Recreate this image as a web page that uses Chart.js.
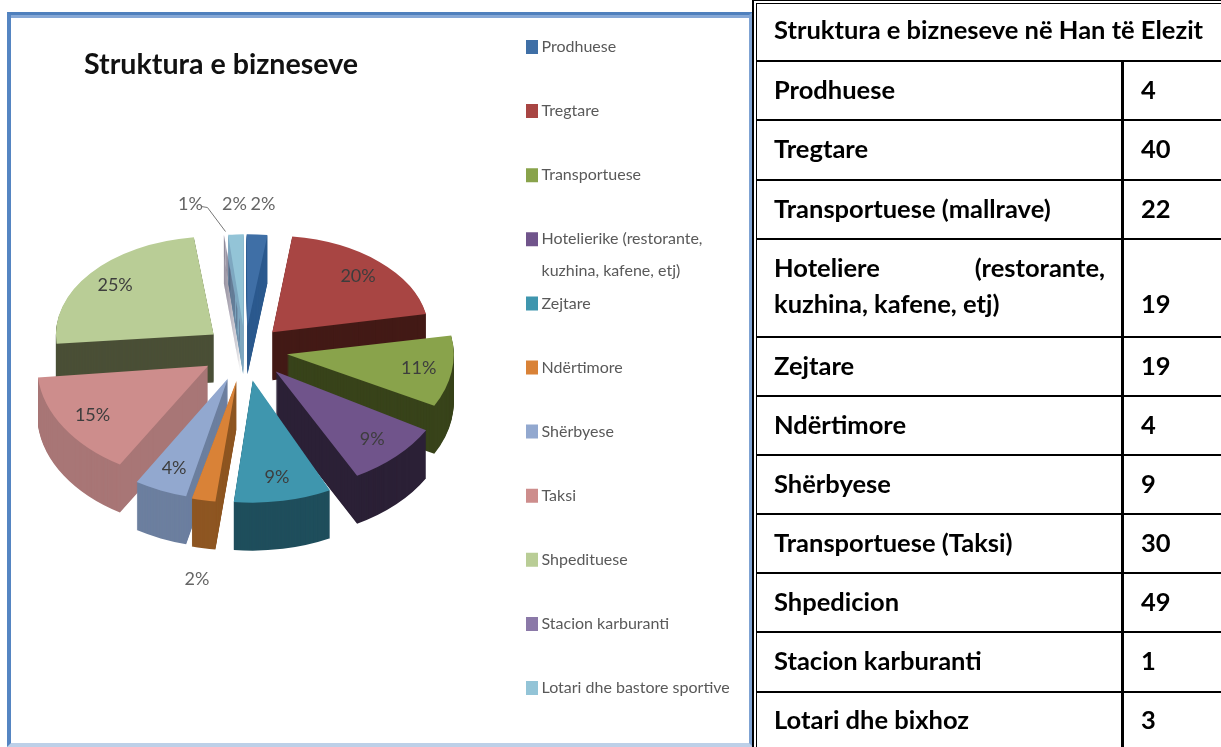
<!DOCTYPE html>
<html lang="sq"><head><meta charset="utf-8">
<script src="https://cdn.jsdelivr.net/npm/chart.js@4"></script>
<style>
html,body{margin:0;padding:0;background:#fff;overflow:hidden;width:1221px;height:747px}
#frame{position:absolute;left:7px;top:12px;width:746px;height:735px;box-sizing:border-box;
 border-left:4px solid #5585c2;border-top:3px solid #4f80bd;border-right:4px solid #7fa3d3;border-bottom:4px solid #bdd0e8}
#frame:before{content:"";position:absolute;left:0;right:0;top:0;height:3px;background:#86a8d6}
canvas{position:absolute;left:0;top:0;filter:blur(.75px)}
.dbl{position:absolute;box-sizing:border-box;border-color:#000;border-style:solid;border-right:0;border-bottom:0}
#d1{left:752px;top:0;width:469px;height:747px;border-width:1px 0 0 2px}
#d2{left:756px;top:3px;width:465px;height:744px;border-width:1px 0 0 1px}
#tbl{position:absolute;left:757px;top:0;width:464px;height:747px;border-collapse:separate;border-spacing:0;
 font:bold 25.5px Lato,"Open Sans",sans-serif;color:#000;table-layout:fixed}
#tbl td{border:0;border-bottom:2px solid #000;padding:0 0 4px 17px;vertical-align:middle;box-sizing:border-box}
#tbl td.v{border-left:3px solid #000;padding-left:17px}
#tbl tr:first-child td{padding-bottom:2px}
#tbl tr:last-child td{border-bottom:0;padding-bottom:2px}
#tbl .tall td{vertical-align:bottom;padding-bottom:15px;line-height:36px}
.just{display:block;text-align:justify;text-align-last:justify;padding-right:16px}
</style></head><body>
<div id="frame"></div>
<canvas id="c" width="752" height="830"></canvas>
<div class="dbl" id="d1"></div><div class="dbl" id="d2"></div>
<table id="tbl"></table>
<script>
const chartTitle = 'Struktura e bizneseve';
const legendLabels = ['Prodhuese','Tregtare','Transportuese','Hotelierike (restorante,','Zejtare','Ndërtimore','Shërbyese','Taksi','Shpedituese','Stacion karburanti','Lotari dhe bastore sportive'];
const legendWrapLine = 'kuzhina, kafene, etj)';
const values = [4,40,22,19,19,4,9,30,49,1,3];
const percentLabels = ['2%','20%','11%','9%','9%','2%','4%','15%','25%','1%','2%'];
const topColors = ['#3F6FA6','#A84543','#89A34B','#70548B','#3F96AE','#D98237','#92A8CF','#CD8D8C','#B9CD96','#8B79A8','#93C4D7'];
const sideColors = ['#2C5A8E','#431A16','#38431A','#2B2036','#1F4E5C','#8E5622','#6C7F9F','#A87676','#4A4F36','#2E2440','#7FA8C0'];
const tableTitle = 'Struktura e bizneseve në Han të Elezit';
const tableLabels = ['Prodhuese','Tregtare','Transportuese (mallrave)','Hoteliere (restorante,|kuzhina, kafene, etj)','Zejtare','Ndërtimore','Shërbyese','Transportuese (Taksi)','Shpedicion','Stacion karburanti','Lotari dhe bixhoz'];
const tableValues = [4,40,22,19,19,4,9,30,49,1,3];
const rowHeights = [62,59,60,59,98,59,59,59,59,59,60,54];

// table
const tbl = document.getElementById('tbl');
let html = '<colgroup><col style="width:364px"><col style="width:100px"></colgroup>';
html += `<tr style="height:${rowHeights[0]}px"><td colspan="2">${tableTitle}</td></tr>`;
tableLabels.forEach((l,i)=>{
  const parts = l.split('|');
  const txt = parts.length>1 ? `<span class="just">${parts[0]}</span>${parts[1]}` : l;
  html += `<tr class="${parts.length>1?'tall':''}" style="height:${rowHeights[i+1]}px"><td>${txt}</td><td class="v">${tableValues[i]}</td></tr>`;
});
tbl.innerHTML = html;

// pie geometry on the page
const PIE = {cx:245, cy:350, k:.65, depth:48, perspX:.07, perspY:.14};
const FONT = 'Lato,"Open Sans",sans-serif';
const LEG = {x:526, firstY:47, size:16, pad:48.1, boxW:3, line:9};

function sliceInfo(el){
  const mid=(el.startAngle+el.endAngle)/2;
  const ux=Math.cos(mid), uy=Math.sin(mid);
  return {mid,ux,uy,sx:1+PIE.perspX*uy,sy:(1+PIE.perspY*uy)*PIE.k};
}
function drawSlice(ctx,el,color,dy,inf){
  const o=el.options, R=el.outerRadius, a0=el.startAngle, a1=el.endAngle, c0=el.circumference;
  // thin slices look wider in the tilted view: open them a little around their middle
  const frac=(a1-a0)/(2*Math.PI), widen=frac<.05?Math.min(2.4,1+.012/frac):1;
  const circ=(a1-a0)*widen;
  el.startAngle=inf.mid-circ/2; el.endAngle=inf.mid+circ/2; el.circumference=circ;
  // the arc element grows narrow slices by a share of their offset: cancel that growth
  el.outerRadius=R-(o.offset/4)*(1-Math.sin(Math.min(Math.PI,circ)));
  el.options=Object.assign({},o,{backgroundColor:color,borderWidth:0});
  ctx.save();
  ctx.translate(PIE.cx,PIE.cy+dy);
  ctx.scale(inf.sx,inf.sy);
  ctx.translate(-el.x,-el.y);
  el.draw(ctx);
  ctx.restore();
  el.options=o; el.outerRadius=R; el.startAngle=a0; el.endAngle=a1; el.circumference=c0;
}
const pie3d = {
  id:'pie3d',
  beforeDraw(chart){
    const l=chart.legend;
    l.left=LEG.x+LEG.line/2-LEG.pad;
    l.top=LEG.firstY-LEG.pad-LEG.size/2;
    const t=chart.titleBlock;
    t.left=84; t.right=500; t.top=48;
  },
  beforeDatasetsDraw(chart){
    const ctx=chart.ctx, arcs=chart.getDatasetMeta(0).data;
    const order=arcs.map((a,i)=>i).sort((a,b)=>sliceInfo(arcs[a]).uy-sliceInfo(arcs[b]).uy);
    for(const i of order){
      const el=arcs[i], inf=sliceInfo(el);
      for(let d=PIE.depth;d>0;d--) drawSlice(ctx,el,sideColors[i],d,inf);
      drawSlice(ctx,el,topColors[i],0,inf);
    }
    // percentage labels
    ctx.save();
    ctx.font='18px '+FONT; ctx.textAlign='center'; ctx.textBaseline='middle';
    arcs.forEach((el,i)=>{
      const inf=sliceInfo(el), off=el.options.offset/4, R=el.outerRadius;
      const outside=values[i]<=4 && i!==6;
      const f=outside?1.2:.8;
      let x=PIE.cx+inf.ux*inf.sx*(off+f*R), y=PIE.cy+inf.uy*inf.sy*(off+f*R);
      if(outside) y+= inf.uy>0 ? PIE.depth+7 : -12;
      if(i===9) x-=30;
      if(i===0) x+=4;
      ctx.fillStyle=outside?'#666':'#3d3d3d';
      ctx.fillText(percentLabels[i],x,y);
      if(i===9){
        ctx.strokeStyle='#777';ctx.lineWidth=1;ctx.beginPath();
        ctx.moveTo(x+11,y+2);ctx.lineTo(x+17,y+3);ctx.lineTo(x+35,y+27);ctx.stroke();
      }
    });
    // wrapped second line of the fourth legend entry
    ctx.textAlign='left';ctx.fillStyle='#595959';ctx.font=LEG.size+'px '+FONT;
    ctx.fillText(legendWrapLine,LEG.x+LEG.line/2+LEG.boxW+LEG.size/2,LEG.firstY+3*(LEG.size+LEG.pad)+32);
    ctx.restore();
    return false;
  }
};
new Chart(document.getElementById('c'),{
  type:'pie',
  data:{labels:legendLabels,datasets:[{data:values,backgroundColor:topColors,borderWidth:0,offset:168,hoverOffset:0,radius:165}]},
  options:{
    responsive:false,animation:false,
    plugins:{
      tooltip:{enabled:false},
      title:{display:true,text:chartTitle,align:'start',fullSize:false,color:'#111',padding:0,font:{family:FONT,size:28.6,weight:'bold'}},
      legend:{display:true,position:'right',align:'start',
        labels:{color:'#595959',boxWidth:LEG.boxW,boxHeight:5,padding:LEG.pad,font:{family:FONT,size:LEG.size},
          generateLabels(chart){
            return Chart.overrides.pie.plugins.legend.labels.generateLabels(chart).map(it=>Object.assign(it,{strokeStyle:it.fillStyle,lineWidth:LEG.line}));
          }}}
    }
  },
  plugins:[pie3d]
});
</script>
</body></html>
